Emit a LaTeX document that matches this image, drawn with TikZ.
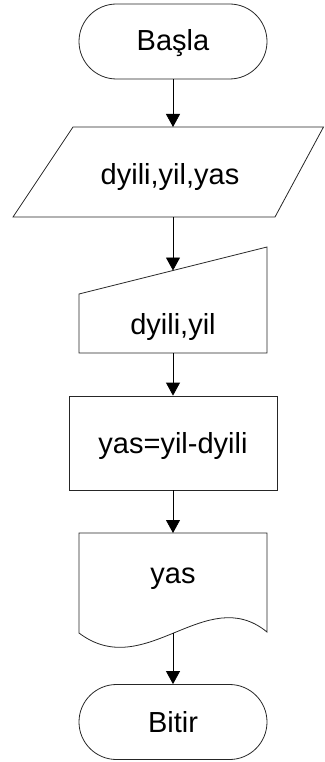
\documentclass[tikz,border=0pt]{standalone}
\usepackage{fontspec}
\setmainfont{Liberation Sans}
\usetikzlibrary{arrows.meta,shapes.misc}
\begin{document}
\begin{tikzpicture}[x=1pt,y=-1pt,
  shapeline/.style={draw=black!85,line width=0.8pt},
  lbl/.style={font=\fontsize{29}{33}\selectfont,anchor=base,inner sep=0pt},
  term/.style={shapeline,rounded rectangle,minimum width=188pt,minimum height=75pt,inner sep=0pt},
  conn/.style={draw=black,line width=0.8pt,-{Triangle[width=14pt,length=13pt]}}]
\useasboundingbox (0,0) rectangle (324,762);
% start terminal
\node[term] (start) at (173,41.5) {};
\node[lbl] (startT) at (173,51) {Başla};
% input parallelogram
\draw[shapeline] (73,127) -- (323.5,127) -- (275,217) -- (13,217) -- cycle;
\coordinate (ioTop) at (173,127);
\coordinate (ioBot) at (173,217);
\node[lbl] (ioT) at (170,185) {dyili,yil,yas};
% manual input
\draw[shapeline] (79,294) -- (267,247) -- (267,353) -- (79,353) -- cycle;
\coordinate (miTop) at (173,270.5);
\coordinate (miBot) at (173,353);
\node[lbl] (miT) at (173,334) {dyili,yil};
% process
\node[shapeline,minimum width=208pt,minimum height=94pt,inner sep=0pt] (proc) at (173,443) {};
\node[lbl] (procT) at (173,453) {yas=yil-dyili};
% document
\draw[shapeline] (79,533) -- (267,533) -- (267,632)
  .. controls (206,582) and (145,683) .. (79,633) -- cycle;
\coordinate (docTop) at (173,533);
\coordinate (docBot) at (173,633);
\node[lbl] (docT) at (173,583) {yas};
% end terminal
\node[term] (stop) at (173,722) {};
\node[lbl] (stopT) at (173,732) {Bitir};
% connectors
\draw[conn] (start.south) -- (ioTop);
\draw[conn] (ioBot) -- (miTop);
\draw[conn] (miBot) -- (proc.north);
\draw[conn] (proc.south) -- (docTop);
\draw[conn] (docBot) -- (stop.north);
\end{tikzpicture}
\end{document}
